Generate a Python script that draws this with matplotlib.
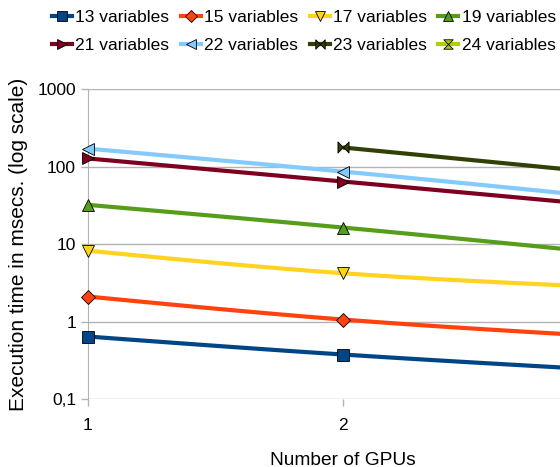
import matplotlib.pyplot as plt
import numpy as np
from matplotlib.path import Path

plt.rcParams['font.family'] = ['Liberation Sans', 'DejaVu Sans']

gpus = [1, 2, 3]
labels = ['13 variables', '15 variables', '17 variables', '19 variables',
          '21 variables', '22 variables', '23 variables', '24 variables']
v13 = [0.64, 0.375, 0.24]
v15 = [2.1, 1.06, 0.65]
v17 = [8.2, 4.2, 2.8]
v19 = [32, 16.3, 7.8]
v21 = [127, 64, 32]
v22 = [170, 86, 41]
v23 = [np.nan, 176, 84]
v24 = [np.nan, np.nan, np.nan]
series = [v13, v15, v17, v19, v21, v22, v23, v24]

colors = ['#004586', '#ff420e', '#ffd320', '#579d1c',
          '#7e0021', '#83caff', '#314004', '#aecf00']
bowtie = Path([(-1, -1), (1, 1), (1, -1), (-1, 1), (-1, -1)],
              [Path.MOVETO, Path.LINETO, Path.LINETO, Path.LINETO, Path.CLOSEPOLY])
hourglass = Path([(-1, 1), (1, 1), (-1, -1), (1, -1), (-1, 1)],
                 [Path.MOVETO, Path.LINETO, Path.LINETO, Path.LINETO, Path.CLOSEPOLY])
markers = ['s', 'D', 'v', '^', '>', '<', bowtie, hourglass]
msizes = [9, 7, 9, 9, 9, 9, 8, 8]


def smooth(x, y, n=60):
    # natural cubic spline through the points, done in log space
    x = np.asarray(x, float)
    y = np.log10(np.asarray(y, float))
    k = len(x)
    if k < 3:
        xs = np.linspace(x[0], x[-1], n)
        return xs, 10 ** np.interp(xs, x, y)
    h = np.diff(x)
    A = np.zeros((k, k))
    b = np.zeros(k)
    A[0, 0] = A[-1, -1] = 1
    for i in range(1, k - 1):
        A[i, i - 1] = h[i - 1]
        A[i, i] = 2 * (h[i - 1] + h[i])
        A[i, i + 1] = h[i]
        b[i] = 6 * ((y[i + 1] - y[i]) / h[i] - (y[i] - y[i - 1]) / h[i - 1])
    M = np.linalg.solve(A, b)
    xs = np.linspace(x[0], x[-1], n)
    idx = np.clip(np.searchsorted(x, xs) - 1, 0, k - 2)
    t0, t1 = x[idx], x[idx + 1]
    hh = t1 - t0
    ys = (M[idx] * (t1 - xs) ** 3 / (6 * hh) + M[idx + 1] * (xs - t0) ** 3 / (6 * hh)
          + (y[idx] / hh - M[idx] * hh / 6) * (t1 - xs)
          + (y[idx + 1] / hh - M[idx + 1] * hh / 6) * (xs - t0))
    return xs, 10 ** ys


fig = plt.figure(figsize=(5.6, 4.67), dpi=100)
ax = fig.add_axes([0.157, 0.1456, 0.911, 0.6638])

handles = []
for vals, col, mk, ms, lab in zip(series, colors, markers, msizes, labels):
    x = np.array(gpus, float)
    y = np.array(vals, float)
    ok = ~np.isnan(y)
    if ok.sum() >= 2:
        xs, ys = smooth(x[ok], y[ok])
        ax.plot(xs, ys, color=col, lw=3, zorder=2, solid_capstyle='butt')
    if ok.sum() >= 1:
        ax.plot(x[ok], y[ok], ls='none', marker=mk, ms=ms, mfc=col,
                mec='black', mew=0.6, zorder=3, clip_on=False)
    h, = ax.plot([], [], color=col, lw=3, marker=mk, ms=ms * 0.85, mfc=col,
                 mec='black', mew=0.6, label=lab)
    handles.append(h)

ax.set_yscale('log')
ax.set_ylim(0.1, 1000)
ax.set_xlim(1, 3)
ax.set_xticks([1, 2])
ax.set_xticklabels(['1', '2'])
ax.set_yticks([0.1, 1, 10, 100, 1000])
ax.set_yticklabels(['0,1', '1', '10', '100', '1000'])
ax.minorticks_off()
ax.yaxis.grid(True, color='#b3b3b3', lw=1)
for s in ['top', 'right', 'bottom']:
    ax.spines[s].set_visible(False)
ax.spines['left'].set_color('#b3b3b3')
ax.tick_params(axis='both', colors='#b3b3b3', labelcolor='black', labelsize=12.5,
               length=5, width=1)
ax.tick_params(axis='x', pad=9)
ax.set_xlabel('Number of GPUs', fontsize=13.8, labelpad=13)
ax.set_ylabel('Execution time in msecs. (log scale)', fontsize=15, labelpad=7)

# legend filled row by row, as in the original
order = [0, 4, 1, 5, 2, 6, 3, 7]
fig.legend(handles=[handles[i] for i in order], ncol=4, loc='upper left',
           bbox_to_anchor=(52 / 560, 1 - 10 / 467), frameon=False, fontsize=12.5,
           handlelength=1.15, handletextpad=0.2, columnspacing=0.65,
           labelspacing=0.75, borderpad=0, borderaxespad=0)

fig.savefig('out.png', dpi=100)
